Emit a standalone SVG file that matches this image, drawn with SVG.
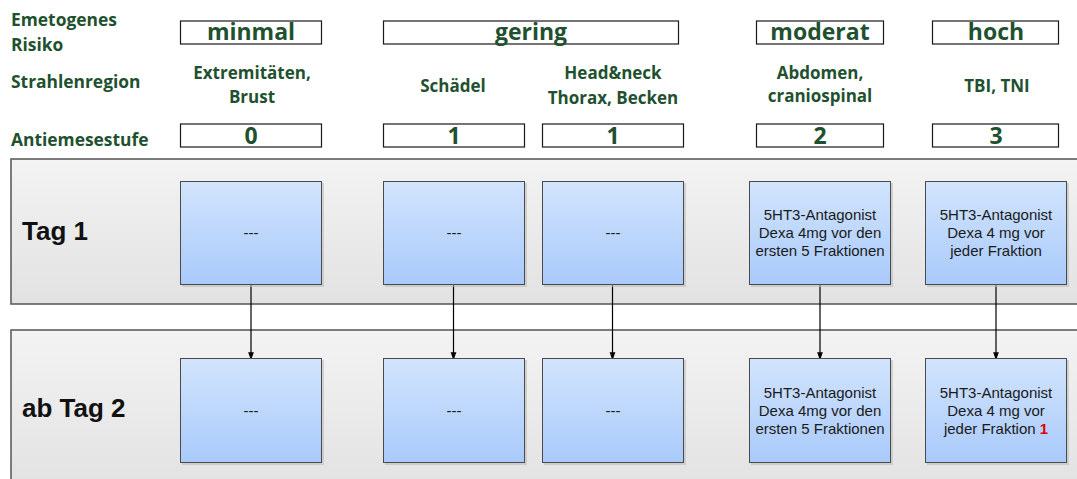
<svg xmlns="http://www.w3.org/2000/svg" width="1077" height="479" viewBox="0 0 1077 479">
<defs>
<linearGradient id="laneG" x1="0" y1="0" x2="0" y2="1">
<stop offset="0" stop-color="#F3F3F3"/>
<stop offset="1" stop-color="#E2E2E2"/>
</linearGradient>
<linearGradient id="nodeG" x1="0" y1="0" x2="0" y2="1">
<stop offset="0" stop-color="#D2E4FD"/>
<stop offset="1" stop-color="#A9CAFB"/>
</linearGradient>
<marker id="arr" markerWidth="8" markerHeight="11" refX="8" refY="4" orient="auto" markerUnits="userSpaceOnUse" viewBox="0 0 11 8">
<path d="M0,0 L11,4 L0,8 Z" fill="#000"/>
</marker>
</defs>
<style>
.hdr{font-family:"Open Sans",Lato,"Liberation Sans",sans-serif;font-weight:bold;fill:#1F5130;font-size:17.4px}
.reg{font-family:"Open Sans",Lato,"Liberation Sans",sans-serif;font-weight:bold;fill:#1F5130;font-size:17px;text-anchor:middle}
.big{font-family:"Open Sans",Lato,"Liberation Sans",sans-serif;font-weight:bold;fill:#1F5130;font-size:23px;text-anchor:middle}
.hbox{fill:#FFFFFF;stroke:#1A1A1A;stroke-width:1.2}
.lane{fill:url(#laneG);stroke:#5E5E5E;stroke-width:1.6}
.lanelbl{font-family:"Liberation Sans",Arial,sans-serif;font-weight:bold;font-size:26px;fill:#111}
.node{fill:url(#nodeG);stroke:#4A4A4A;stroke-width:1}
.shadow{fill:#BDBDBD;opacity:0.6}
.nt{font-family:"Liberation Sans",Arial,sans-serif;font-size:15px;fill:#1A1A1A;text-anchor:middle}
.red{fill:#E00000;font-weight:bold}
.conn{stroke:#000;stroke-width:1.2;fill:none}
</style>

<g id="header">
<text class="hdr" x="11" y="26">Emetogenes</text>
<text class="hdr" x="11" y="51">Risiko</text>
<text class="hdr" x="11" y="88">Strahlenregion</text>
<text class="hdr" x="11" y="146">Antiemesestufe</text>
</g>

<g id="risk-minmal">
<rect class="hbox" x="180.5" y="21" width="141" height="23"/>
<text class="big" x="251" y="40">minmal</text>
</g>
<g id="risk-gering">
<rect class="hbox" x="383.5" y="21" width="295" height="23"/>
<text class="big" x="531" y="40">gering</text>
</g>
<g id="risk-moderat">
<rect class="hbox" x="756.5" y="21" width="127" height="23"/>
<text class="big" x="820" y="40">moderat</text>
</g>
<g id="risk-hoch">
<rect class="hbox" x="932.5" y="21" width="126" height="23"/>
<text class="big" x="996" y="40">hoch</text>
</g>

<g id="regions">
<text class="reg" x="252" y="79">Extremitäten,</text>
<text class="reg" x="252" y="103">Brust</text>
<text class="reg" x="453" y="92">Schädel</text>
<text class="reg" x="613" y="79">Head&amp;neck</text>
<text class="reg" x="613" y="104">Thorax, Becken</text>
<text class="reg" x="820" y="79">Abdomen,</text>
<text class="reg" x="820" y="102">craniospinal</text>
<text class="reg" x="997" y="92">TBI, TNI</text>
</g>

<g id="stufe-0">
<rect class="hbox" x="180.5" y="124" width="141" height="23"/>
<text class="big" x="251" y="144">0</text>
</g>
<g id="stufe-1a">
<rect class="hbox" x="383.5" y="124" width="141" height="23"/>
<text class="big" x="454" y="144">1</text>
</g>
<g id="stufe-1b">
<rect class="hbox" x="542.5" y="124" width="141" height="23"/>
<text class="big" x="613" y="144">1</text>
</g>
<g id="stufe-2">
<rect class="hbox" x="756.5" y="124" width="127" height="23"/>
<text class="big" x="820" y="144">2</text>
</g>
<g id="stufe-3">
<rect class="hbox" x="932.5" y="124" width="126" height="23"/>
<text class="big" x="996" y="144">3</text>
</g>

<g id="lane-tag1">
<rect class="lane" x="11" y="159" width="1075" height="145"/>
<text class="lanelbl" x="22" y="240">Tag 1</text>
</g>
<g id="lane-tag2">
<rect class="lane" x="11" y="330" width="1075" height="160"/>
<text class="lanelbl" x="22" y="417">ab Tag 2</text>
</g>

<g id="connectors">
<line class="conn" x1="251" y1="285" x2="251" y2="358" marker-end="url(#arr)"/>
<line class="conn" x1="453.5" y1="285" x2="453.5" y2="358" marker-end="url(#arr)"/>
<line class="conn" x1="612.5" y1="285" x2="612.5" y2="358" marker-end="url(#arr)"/>
<line class="conn" x1="820" y1="285" x2="820" y2="358" marker-end="url(#arr)"/>
<line class="conn" x1="996" y1="285" x2="996" y2="358" marker-end="url(#arr)"/>
</g>

<g id="n1-0">
<rect class="shadow" x="182" y="183" width="142" height="104"/>
<rect class="node" x="180.5" y="181.5" width="141" height="103"/>
<text class="nt" x="251" y="238">---</text>
</g>
<g id="n1-1a">
<rect class="shadow" x="385" y="183" width="142" height="104"/>
<rect class="node" x="383.5" y="181.5" width="141" height="103"/>
<text class="nt" x="454" y="238">---</text>
</g>
<g id="n1-1b">
<rect class="shadow" x="544" y="183" width="142" height="104"/>
<rect class="node" x="542.5" y="181.5" width="141" height="103"/>
<text class="nt" x="613" y="238">---</text>
</g>
<g id="n1-2">
<rect class="shadow" x="751" y="183" width="142" height="104"/>
<rect class="node" x="749.5" y="181.5" width="141" height="103"/>
<text class="nt" x="820" y="220">5HT3-Antagonist</text>
<text class="nt" x="820" y="238">Dexa 4mg vor den</text>
<text class="nt" x="820" y="256">ersten 5 Fraktionen</text>
</g>
<g id="n1-3">
<rect class="shadow" x="927" y="183" width="142" height="104"/>
<rect class="node" x="925.5" y="181.5" width="141" height="103"/>
<text class="nt" x="996" y="220">5HT3-Antagonist</text>
<text class="nt" x="996" y="238">Dexa 4 mg vor</text>
<text class="nt" x="996" y="256">jeder Fraktion</text>
</g>

<g id="n2-0">
<rect class="shadow" x="182" y="360" width="142" height="105"/>
<rect class="node" x="180.5" y="358.5" width="141" height="104"/>
<text class="nt" x="251" y="416">---</text>
</g>
<g id="n2-1a">
<rect class="shadow" x="385" y="360" width="142" height="105"/>
<rect class="node" x="383.5" y="358.5" width="141" height="104"/>
<text class="nt" x="454" y="416">---</text>
</g>
<g id="n2-1b">
<rect class="shadow" x="544" y="360" width="142" height="105"/>
<rect class="node" x="542.5" y="358.5" width="141" height="104"/>
<text class="nt" x="613" y="416">---</text>
</g>
<g id="n2-2">
<rect class="shadow" x="751" y="360" width="142" height="105"/>
<rect class="node" x="749.5" y="358.5" width="141" height="104"/>
<text class="nt" x="820" y="398">5HT3-Antagonist</text>
<text class="nt" x="820" y="416">Dexa 4mg vor den</text>
<text class="nt" x="820" y="434">ersten 5 Fraktionen</text>
</g>
<g id="n2-3">
<rect class="shadow" x="927" y="360" width="142" height="105"/>
<rect class="node" x="925.5" y="358.5" width="141" height="104"/>
<text class="nt" x="996" y="398">5HT3-Antagonist</text>
<text class="nt" x="996" y="416">Dexa 4 mg vor</text>
<text class="nt" x="996" y="434">jeder Fraktion <tspan class="red">1</tspan></text>
</g>
</svg>
